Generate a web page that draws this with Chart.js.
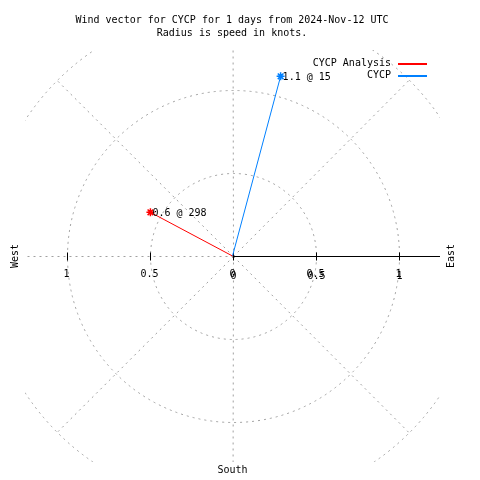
<!DOCTYPE html>
<html><head><meta charset="utf-8">
<script src="https://cdn.jsdelivr.net/npm/chart.js@4/dist/chart.umd.min.js"></script>
<style>html,body{margin:0;padding:0;background:#fff}#wrap{width:480px;height:480px}</style>
</head><body><div id="wrap"><canvas id="c" width="480" height="480"></canvas></div>
<script>
const titleLines = ["Wind vector for CYCP for 1 days from 2024-Nov-12 UTC", "Radius is speed in knots."];
const seriesNames = ["CYCP Analysis", "CYCP"];
const speeds = [0.56, 1.12];        // knots
const directions = [298, 15];       // degrees
const pointLabels = ["0.6 @ 298", "1.1 @ 15"];
const colors = ["#ff0000", "#0080ff"];
const ringRadii = [0.5, 1, 1.5];
const spokeAngles = [0, 45, 90, 135, 180, 225, 270, 315];
const tickValues = [-1, -0.5, 0, 0.5, 1];
const tickLabels = ["1", "0.5", "0", "0.5", "1"];
const FONT = "10px 'DejaVu Sans Mono', monospace";

function vec(r, d) { const a = d * Math.PI / 180; return {x: r * Math.sin(a), y: r * Math.cos(a)}; }

const datasets = speeds.map((s, i) => ({
  label: seriesNames[i],
  data: [{x: 0, y: 0}, vec(s, directions[i])],
  showLine: true,
  borderColor: colors[i],
  backgroundColor: colors[i],
  borderWidth: 1,
  pointStyle: 'star',
  pointRadius: [0, 4],
  pointBorderWidth: 1.5,
  pointBorderColor: colors[i]
}));

const polarPlugin = {
  id: 'polar',
  beforeDatasetsDraw(chart) {
    const {ctx, chartArea: ca, scales: {x, y}} = chart;
    const cx = Math.round(x.getPixelForValue(0)) + 0.5, cy = Math.round(y.getPixelForValue(0)) + 0.5;
    ctx.save();
    ctx.beginPath(); ctx.rect(ca.left, ca.top, ca.right - ca.left, ca.bottom - ca.top); ctx.clip();
    ctx.strokeStyle = '#a0a0a0'; ctx.lineWidth = 1; ctx.setLineDash([2, 4]);
    ringRadii.forEach(r => {
      const rp = x.getPixelForValue(r) - x.getPixelForValue(0);
      ctx.beginPath(); ctx.arc(cx, cy, rp, 0, Math.PI * 2); ctx.stroke();
    });
    const R = ringRadii[ringRadii.length - 1];
    spokeAngles.forEach(d => {
      const v = vec(R, d);
      ctx.beginPath(); ctx.moveTo(cx, cy);
      ctx.lineTo(x.getPixelForValue(v.x) + 0.5, y.getPixelForValue(v.y) + 0.5); ctx.stroke();
    });
    ctx.restore();
    ctx.save();
    ctx.strokeStyle = '#000'; ctx.lineWidth = 1;
    ctx.beginPath(); ctx.moveTo(cx, cy); ctx.lineTo(ca.right, cy); ctx.stroke();
    tickValues.forEach(t => {
      const px = Math.round(x.getPixelForValue(t)) + 0.5;
      ctx.beginPath(); ctx.moveTo(px, cy - 4); ctx.lineTo(px, cy + 4); ctx.stroke();
    });
    ctx.restore();
  },
  afterDraw(chart) {
    const {ctx, scales: {x, y}} = chart;
    const cx = x.getPixelForValue(0), cy = y.getPixelForValue(0);
    ctx.save();
    ctx.fillStyle = '#000'; ctx.font = FONT; ctx.textBaseline = 'middle';
    ctx.textAlign = 'center';
    ctx.fillText(titleLines[0], 232, 20);
    ctx.fillText(titleLines[1], 232, 33);
    tickValues.forEach((t, i) => {
      const px = x.getPixelForValue(t);
      ctx.fillText(tickLabels[i], px, cy + 18);
      if (t >= 0) ctx.fillText(tickLabels[i], px + 1, cy + 20);
    });
    ctx.fillText("South", cx, 470);
    ctx.textAlign = 'right';
    seriesNames.forEach((n, i) => {
      const ly = 63 + i * 12;
      ctx.fillStyle = '#000';
      ctx.fillText(n, 391, ly);
      ctx.fillStyle = colors[i];
      ctx.fillRect(398, Math.round(ly), 29, 2);
    });
    ctx.fillStyle = '#000';
    ctx.textAlign = 'left';
    speeds.forEach((s, i) => {
      const v = vec(s, directions[i]);
      ctx.fillText(pointLabels[i], x.getPixelForValue(v.x) + 2, y.getPixelForValue(v.y) + 1);
    });
    ctx.textAlign = 'center';
    [["West", 15], ["East", 451]].forEach(([t, px]) => {
      ctx.save(); ctx.translate(px, cy); ctx.rotate(-Math.PI / 2); ctx.fillText(t, 0, 0); ctx.restore();
    });
    ctx.restore();
  }
};

new Chart(document.getElementById('c'), {
  type: 'scatter',
  data: {datasets},
  options: {
    responsive: false, animation: false, devicePixelRatio: 1,
    layout: {padding: {left: 25, right: 40, top: 50, bottom: 18}},
    scales: {
      x: {type: 'linear', min: -1.25, max: 1.25, display: false},
      y: {type: 'linear', min: -1.24, max: 1.24, display: false}
    },
    plugins: {legend: {display: false}, title: {display: false}, tooltip: {enabled: false}}
  },
  plugins: [polarPlugin]
});
</script></body></html>
